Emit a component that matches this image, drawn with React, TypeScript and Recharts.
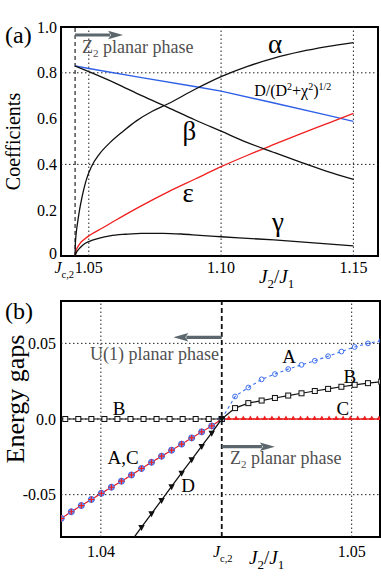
import React from 'react';
import {
  ComposedChart,
  Line,
  XAxis,
  YAxis,
  ReferenceLine,
  ReferenceDot,
  ReferenceArea,
  Label,
} from 'recharts';

const FONT = "'Liberation Serif', 'Times New Roman', Times, serif";
const JC = 1.04482;

// ---------------- Panel (a) data ----------------
const aXDomain = [1.0395, 1.1593];
const aYDomain = [0, 1];
const aXTicks = [JC, 1.05, 1.1, 1.15];
const aXTickLabels = ['Jc,2', '1.05', '1.10', '1.15'];
const aYTicks = [0, 0.2, 0.4, 0.6, 0.8, 1.0];
const aYTickLabels = ['0', '0.2', '0.4', '0.6', '0.8', '1.0'];

const alphaJ = [JC, 1.0449, 1.0452, 1.0457, 1.0465, 1.0475, 1.049, 1.051, 1.054, 1.058, 1.063, 1.068, 1.074, 1.08, 1.09, 1.1, 1.11, 1.12, 1.13, 1.14, 1.15];
const alphaV = [0, 0.045, 0.095, 0.14, 0.2, 0.26, 0.33, 0.39, 0.445, 0.495, 0.545, 0.59, 0.632, 0.665, 0.727, 0.783, 0.828, 0.864, 0.892, 0.914, 0.932];

const betaJ = [JC, 1.05, 1.06, 1.07, 1.08, 1.09, 1.1, 1.11, 1.12, 1.13, 1.14, 1.15];
const betaV = [0.83, 0.805, 0.755, 0.7, 0.648, 0.595, 0.545, 0.495, 0.452, 0.41, 0.37, 0.335];

const gammaJ = [JC, 1.0452, 1.046, 1.0467, 1.048, 1.05, 1.054, 1.058, 1.064, 1.07, 1.078, 1.085, 1.092, 1.1, 1.11, 1.12, 1.13, 1.14, 1.15];
const gammaV = [0, 0.012, 0.027, 0.036, 0.05, 0.063, 0.078, 0.088, 0.095, 0.099, 0.099, 0.096, 0.09, 0.084, 0.077, 0.07, 0.062, 0.053, 0.044];

const epsJ = [JC, 1.0452, 1.046, 1.0467, 1.048, 1.05, 1.052, 1.055, 1.06, 1.07, 1.08, 1.09, 1.1, 1.11, 1.12, 1.13, 1.14, 1.15];
const epsV = [0, 0.024, 0.043, 0.055, 0.07, 0.088, 0.102, 0.121, 0.155, 0.22, 0.28, 0.335, 0.39, 0.44, 0.487, 0.533, 0.578, 0.623];

const ratioJ = [JC, 1.05, 1.07, 1.09, 1.1, 1.12, 1.14, 1.15];
const ratioV = [0.83, 0.819, 0.779, 0.74, 0.72, 0.668, 0.615, 0.588];

// ---------------- Panel (b) data ----------------
const bXDomain = [1.03841, 1.05113];
const bYDomain = [-0.078, 0.078];
const bXTicks = [1.04, JC, 1.05];
const bXTickLabels = ['1.04', 'Jc,2', '1.05'];
const bYTicks = [-0.05, 0, 0.05];
const bYTickLabels = ['-0.05', '0.0', '0.05'];

// B (left of Jc): zero gap
const bLeftJ = [JC, 1.0443, 1.04378, 1.04326, 1.04274, 1.04222, 1.0417, 1.04118, 1.04066, 1.04014, 1.03962, 1.0391, 1.03858, 1.03806];
const bLeftV = [0, 0, 0, 0, 0, 0, 0, 0, 0, 0, 0, 0, 0, 0];

// A and B (right of Jc)
const rightJ = [JC, 1.04535, 1.04588, 1.04641, 1.04694, 1.04747, 1.048, 1.04853, 1.04906, 1.04959, 1.05012, 1.05065, 1.05118];
const bRightV = [0, 0.0072, 0.0105, 0.0122, 0.0139, 0.0155, 0.017, 0.0185, 0.0199, 0.0213, 0.0226, 0.0237, 0.0247];
const aRightV = [0, 0.0149, 0.0208, 0.0262, 0.0297, 0.033, 0.0358, 0.0385, 0.0415, 0.0446, 0.0476, 0.05, 0.0517];

// A,C (left of Jc)
const acLeftJ = [JC, 1.04442, 1.04402, 1.04362, 1.04322, 1.04282, 1.04242, 1.04202, 1.04162, 1.04122, 1.04082, 1.04042, 1.04002, 1.03962, 1.03922, 1.03882, 1.03842, 1.03802];
const acLeftV = [0, -0.0046, -0.0085, -0.0125, -0.0166, -0.0206, -0.0246, -0.0286, -0.0327, -0.037, -0.0411, -0.0451, -0.0491, -0.0532, -0.0572, -0.0613, -0.0657, -0.07];

// C (right of Jc): zero gap
const cRightJ = [JC, 1.0451, 1.04539, 1.04568, 1.04596, 1.04624, 1.04653, 1.04682, 1.0471, 1.04738, 1.04767, 1.04796, 1.04824, 1.04852, 1.04881, 1.0491, 1.04938, 1.04966, 1.04995, 1.05024, 1.05052, 1.0508, 1.05109, 1.05137];
const cRightV = [0, 0, 0, 0, 0, 0, 0, 0, 0, 0, 0, 0, 0, 0, 0, 0, 0, 0, 0, 0, 0, 0, 0, 0];

// D (left of Jc)
const dJ = [JC, 1.04442, 1.04402, 1.04362, 1.04322, 1.04282, 1.04242, 1.04202, 1.04162, 1.04122];
const dV = [0, -0.0092, -0.018, -0.0268, -0.0356, -0.0446, -0.0536, -0.0625, -0.0715, -0.0806];

// ---------------- helpers ----------------
const zip = (xs: number[], ys: number[]) => xs.map((x, i) => ({ x, y: ys[i] }));
const idx = (arr: number[], v: number) => arr.findIndex((t) => Math.abs(t - v) < 1e-7);

const RED = '#f01e1e';
const BLUE = '#2f5fe6';
const BLUE2 = '#3f6fee';
const ARROW = '#5b676c';
const GRAYTXT = '#505050';
const TS = { fontFamily: FONT } as React.CSSProperties;

const arrowShape = (p: any) => {
  const { x1, y1, x2, y2 } = p;
  const dir = x2 > x1 ? 1 : -1;
  const head = 15;
  const half = 4.2;
  const xb = x2 - dir * head;
  return (
    <g>
      <line x1={x1} y1={y1} x2={xb + dir * 2} y2={y2} stroke={ARROW} strokeWidth={3.2} />
      <polygon points={`${x2},${y2} ${xb},${y2 - half} ${xb + dir * 3},${y2} ${xb},${y2 + half}`} fill={ARROW} />
    </g>
  );
};

const textShape = (node: React.ReactNode, anchor: string, size: number, color = '#000') => (p: any) => (
  <text x={p.cx} y={p.cy} textAnchor={anchor} style={TS} fontSize={size} fill={color}>
    {node}
  </text>
);

const JcLabel = (x: number, y: number, anchor: string) => (
  <text x={x} y={y} textAnchor={anchor} style={TS} fontSize={16} fill="#000">
    <tspan fontStyle="italic">J</tspan>
    <tspan fontSize={10.5} dy={5}>c,2</tspan>
  </text>
);

const J2J1 = (x: number, y: number) => (
  <text x={x} y={y} style={TS} fontSize={19} fill="#000">
    <tspan fontStyle="italic">J</tspan>
    <tspan fontSize={13} dy={5}>2</tspan>
    <tspan dy={-5}>/</tspan>
    <tspan fontStyle="italic">J</tspan>
    <tspan fontSize={13} dy={5}>1</tspan>
  </text>
);

const xTickA = (p: any) => {
  const v = p.payload.value;
  const i = idx(aXTicks, v);
  if (i === 0) return JcLabel(p.x - 1, p.y + 17, 'end');
  return (
    <text x={p.x} y={p.y + 17} textAnchor="middle" style={TS} fontSize={16} fill="#000">
      {aXTickLabels[i]}
    </text>
  );
};

const yTickA = (p: any) => {
  const i = idx(aYTicks, p.payload.value);
  return (
    <text x={p.x - 4} y={p.y - (i === 0 ? 3 : 0)} dy="0.35em" textAnchor="end" style={TS} fontSize={16} fill="#000">
      {aYTickLabels[i]}
    </text>
  );
};

const xTickB = (p: any) => {
  const v = p.payload.value;
  const i = idx(bXTicks, v);
  if (i === 1) return JcLabel(p.x + 1, p.y + 20, 'middle');
  return (
    <text x={p.x} y={p.y + 20} textAnchor="middle" style={TS} fontSize={16} fill="#000">
      {bXTickLabels[i]}
    </text>
  );
};

const yTickB = (p: any) => {
  const i = idx(bYTicks, p.payload.value);
  return (
    <text x={p.x - 5} y={p.y} dy="0.35em" textAnchor="end" style={TS} fontSize={16} fill="#000">
      {bYTickLabels[i]}
    </text>
  );
};

const squareDot = (p: any) => (
  <rect key={`s${p.index}`} x={p.cx - 2.5} y={p.cy - 2.5} width={5} height={5} fill="#f4f4f4" stroke="#111" strokeWidth={1} />
);
const openCircle = (p: any) => (
  <circle key={`o${p.index}`} cx={p.cx} cy={p.cy} r={2.4} fill="none" stroke={BLUE2} strokeWidth={1} />
);
const filledCircle = (p: any) => (
  <circle key={`f${p.index}`} cx={p.cx} cy={p.cy} r={3} fill="#7396f2" stroke="#3a66e8" strokeWidth={1} />
);
const plusDot = (p: any) => (
  <path
    key={`p${p.index}`}
    d={`M${p.cx - 3},${p.cy}h6M${p.cx},${p.cy - 3}v6`}
    stroke={RED}
    strokeWidth={1.2}
    fill="none"
  />
);
const triUp = (p: any) => (
  <path key={`u${p.index}`} d={`M${p.cx},${p.cy - 3.6}L${p.cx + 2.5},${p.cy + 1}L${p.cx - 2.5},${p.cy + 1}Z`} fill={RED} />
);
const triDown = (p: any) => (
  <path key={`d${p.index}`} d={`M${p.cx},${p.cy + 3.8}L${p.cx + 3.2},${p.cy - 2.2}L${p.cx - 3.2},${p.cy - 2.2}Z`} fill="#111" />
);

const dotted = { stroke: '#222', strokeWidth: 1, strokeDasharray: '1.5 2.5' };

export default function App() {
  return (
    <div style={{ position: 'absolute', left: 0, top: 0, width: 381, height: 577, background: '#fff' }}>
      {/* ---------- Panel (a) ---------- */}
      <ComposedChart width={381} height={290} margin={{ top: 27, right: 3, bottom: 4, left: 21 }}>
        <XAxis
          dataKey="x"
          type="number"
          domain={aXDomain}
          allowDataOverflow
          ticks={aXTicks}
          interval={0}
          tick={xTickA}
          tickLine={false}
          axisLine={false}
          tickSize={0}
          tickMargin={0}
          height={30}
        >
          <Label content={(p: any) => {
            const vb = p.viewBox || { x: 61, y: 256 };
            return J2J1(vb.x + 198, vb.y + 27);
          }} />
        </XAxis>
        <YAxis
          type="number"
          domain={aYDomain}
          ticks={aYTicks}
          interval={0}
          tick={yTickA}
          tickLine={false}
          axisLine={false}
          tickSize={0}
          tickMargin={0}
          width={40}
        >
          <Label content={(p: any) => {
            const vb = p.viewBox || { x: 21, y: 27, height: 229 };
            const cx = vb.x - 8;
            const cy = vb.y + vb.height / 2;
            return (
              <g>
                <text x={vb.x - 16} y={vb.y + 16} style={TS} fontSize={24} fill="#000">(a)</text>
                <text x={cx} y={cy} transform={`rotate(-90 ${cx} ${cy})`} textAnchor="middle" dy="0.35em" style={TS} fontSize={20} fill="#000">Coefficients</text>
              </g>
            );
          }} />
        </YAxis>
        <YAxis yAxisId="l2" orientation="left" mirror type="number" domain={aYDomain} ticks={aYTicks} interval={0} tick={false} axisLine={false} tickLine={{ stroke: '#000' }} tickSize={4} width={0} />
        <YAxis yAxisId="r2" orientation="right" mirror type="number" domain={aYDomain} ticks={aYTicks} interval={0} tick={false} axisLine={false} tickLine={{ stroke: '#000' }} tickSize={4} width={0} />

        <ReferenceLine y={0.4} {...dotted} />
        <ReferenceLine y={0.8} {...dotted} />
        <ReferenceLine x={1.05} {...dotted} />
        <ReferenceLine x={1.1} {...dotted} />
        <ReferenceLine x={1.15} {...dotted} />
        <ReferenceLine x={JC} stroke="#111" strokeWidth={1.1} strokeDasharray="4 3" />

        <Line data={zip(ratioJ, ratioV)} dataKey="y" type="linear" stroke={BLUE} strokeWidth={1.4} dot={false} isAnimationActive={false} />
        <Line data={zip(epsJ, epsV)} dataKey="y" type="monotone" stroke={RED} strokeWidth={1.3} dot={false} isAnimationActive={false} />
        <Line data={zip(betaJ, betaV)} dataKey="y" type="monotone" stroke="#111" strokeWidth={1.3} dot={false} isAnimationActive={false} />
        <Line data={zip(gammaJ, gammaV)} dataKey="y" type="monotone" stroke="#111" strokeWidth={1.3} dot={false} isAnimationActive={false} />
        <Line data={zip(alphaJ, alphaV)} dataKey="y" type="monotone" stroke="#111" strokeWidth={1.3} dot={false} isAnimationActive={false} />

        <ReferenceArea x1={aXDomain[0]} x2={aXDomain[1]} y1={aYDomain[0]} y2={aYDomain[1]} fill="none" fillOpacity={0} stroke="#000" strokeWidth={2} ifOverflow="visible" />

        <ReferenceLine segment={[{ x: JC, y: 0.965 }, { x: 1.06296, y: 0.965 }]} shape={arrowShape} ifOverflow="visible" />
        <ReferenceDot x={1.04747} y={0.886} r={0} ifOverflow="visible" shape={textShape(
          <>
            <tspan>Z</tspan>
            <tspan fontSize={11} dy={4}>2</tspan>
            <tspan dy={-4}> planar phase</tspan>
          </>, 'start', 18, GRAYTXT)} />
        <ReferenceDot x={1.1204} y={0.886} r={0} ifOverflow="visible" shape={textShape('α', 'middle', 27)} />
        <ReferenceDot x={1.088} y={0.507} r={0} ifOverflow="visible" shape={textShape('β', 'middle', 27)} />
        <ReferenceDot x={1.0876} y={0.234} r={0} ifOverflow="visible" shape={textShape('ε', 'middle', 27)} />
        <ReferenceDot x={1.1215} y={0.109} r={0} ifOverflow="visible" shape={textShape('γ', 'middle', 27)} />
        <ReferenceDot x={1.1125} y={0.7} r={0} ifOverflow="visible" shape={textShape(
          <>
            <tspan>D/(D</tspan>
            <tspan fontSize={10} dy={-6}>2</tspan>
            <tspan dy={6}>+χ</tspan>
            <tspan fontSize={10} dy={-6}>2</tspan>
            <tspan dy={6}>)</tspan>
            <tspan fontSize={10} dy={-6}>1/2</tspan>
          </>, 'start', 16)} />
      </ComposedChart>

      {/* ---------- Panel (b) ---------- */}
      <ComposedChart width={381} height={287} margin={{ top: 11, right: 1, bottom: 10, left: 21 }}>
        <XAxis
          dataKey="x"
          type="number"
          domain={bXDomain}
          allowDataOverflow
          ticks={bXTicks}
          interval={0}
          tick={xTickB}
          tickLine={false}
          axisLine={false}
          tickSize={0}
          tickMargin={0}
          height={30}
        >
          <Label content={(p: any) => {
            const vb = p.viewBox || { x: 61, y: 247 };
            return J2J1(vb.x + 188, vb.y + 27);
          }} />
        </XAxis>
        <YAxis
          type="number"
          domain={bYDomain}
          allowDataOverflow
          ticks={bYTicks}
          interval={0}
          tick={yTickB}
          tickLine={false}
          axisLine={false}
          tickSize={0}
          tickMargin={0}
          width={40}
        >
          <Label content={(p: any) => {
            const vb = p.viewBox || { x: 21, y: 11, height: 236 };
            const cx = vb.x - 6;
            const cy = vb.y + 98;
            return (
              <g>
                <text x={vb.x - 16} y={vb.y + 18} style={TS} fontSize={24} fill="#000">(b)</text>
                <text x={cx} y={cy} transform={`rotate(-90 ${cx} ${cy})`} textAnchor="middle" dy="0.35em" style={TS} fontSize={26} fill="#000">Energy gaps</text>
              </g>
            );
          }} />
        </YAxis>

        <ReferenceLine y={0.05} {...dotted} />
        <ReferenceLine y={-0.05} {...dotted} />
        <ReferenceLine y={0} {...dotted} />
        <ReferenceLine x={1.04} {...dotted} />
        <ReferenceLine x={1.05} {...dotted} />
        <ReferenceLine x={JC} stroke="#111" strokeWidth={1.8} strokeDasharray="5 3" />

        <Line data={zip(bLeftJ, bLeftV)} dataKey="y" type="linear" stroke="#111" strokeWidth={1.2} dot={squareDot} isAnimationActive={false} />
        <Line data={zip(acLeftJ, acLeftV)} dataKey="y" type="linear" stroke={BLUE2} strokeWidth={1} strokeDasharray="3 2" dot={filledCircle} isAnimationActive={false} />
        <Line data={zip(acLeftJ, acLeftV)} dataKey="y" type="linear" stroke={RED} strokeWidth={1.1} dot={plusDot} isAnimationActive={false} />
        <Line data={zip(rightJ, aRightV)} dataKey="y" type="linear" stroke={BLUE2} strokeWidth={1.1} strokeDasharray="3 3" dot={openCircle} isAnimationActive={false} />
        <Line data={zip(cRightJ, cRightV)} dataKey="y" type="linear" stroke={RED} strokeWidth={1.3} dot={triUp} isAnimationActive={false} />
        <Line data={zip(rightJ, bRightV)} dataKey="y" type="linear" stroke="#111" strokeWidth={1.2} dot={squareDot} isAnimationActive={false} />
        <Line data={zip(dJ, dV)} dataKey="y" type="linear" stroke="#111" strokeWidth={1.3} dot={triDown} isAnimationActive={false} />

        <ReferenceArea x1={bXDomain[0]} x2={bXDomain[1]} y1={bYDomain[0]} y2={bYDomain[1]} fill="none" fillOpacity={0} stroke="#000" strokeWidth={2} ifOverflow="visible" />

        <ReferenceLine segment={[{ x: JC, y: 0.054 }, { x: 1.04289, y: 0.054 }]} shape={arrowShape} ifOverflow="visible" />
        <ReferenceLine segment={[{ x: JC, y: -0.0183 }, { x: 1.04694, y: -0.0183 }]} shape={arrowShape} ifOverflow="visible" />

        <ReferenceDot x={1.03957} y={0.039} r={0} ifOverflow="visible" shape={textShape('U(1) planar phase', 'start', 18, GRAYTXT)} />
        <ReferenceDot x={1.04515} y={-0.03} r={0} ifOverflow="visible" shape={textShape(
          <>
            <tspan>Z</tspan>
            <tspan fontSize={11} dy={4}>2</tspan>
            <tspan dy={-4}> planar phase</tspan>
          </>, 'start', 18, GRAYTXT)} />
        <ReferenceDot x={1.04751} y={0.037} r={0} ifOverflow="visible" shape={textShape('A', 'middle', 19)} />
        <ReferenceDot x={1.04993} y={0.024} r={0} ifOverflow="visible" shape={textShape('B', 'middle', 19)} />
        <ReferenceDot x={1.04965} y={0.0026} r={0} ifOverflow="visible" shape={textShape('C', 'middle', 19)} />
        <ReferenceDot x={1.04073} y={0.0026} r={0} ifOverflow="visible" shape={textShape('B', 'middle', 19)} />
        <ReferenceDot x={1.04089} y={-0.0297} r={0} ifOverflow="visible" shape={textShape('A,C', 'middle', 19)} />
        <ReferenceDot x={1.04348} y={-0.048} r={0} ifOverflow="visible" shape={textShape('D', 'middle', 19)} />
      </ComposedChart>
    </div>
  );
}
